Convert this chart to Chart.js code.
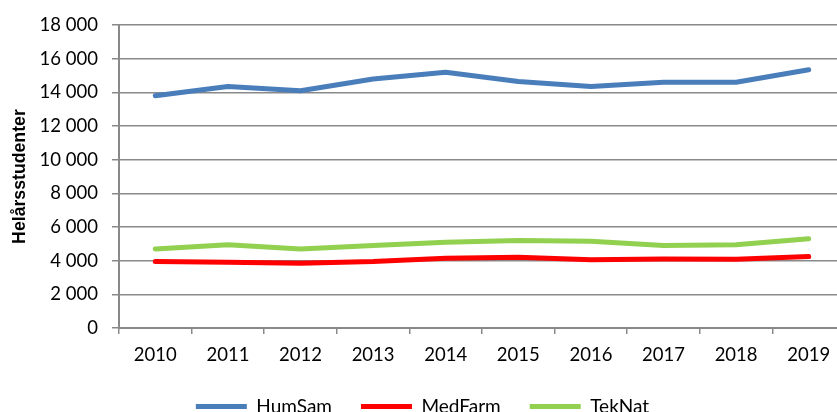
<!DOCTYPE html>
<html><head><meta charset="utf-8">
<script src="https://cdn.jsdelivr.net/npm/chart.js@4/dist/chart.umd.min.js"></script>
<style>
html,body{margin:0;padding:0;overflow:hidden;background:#fff;width:837px;height:412px}
#wrap{position:absolute;left:0;top:0;width:855px;height:426px}
</style>
</head><body><div id="wrap"><canvas id="c" width="855" height="426"></canvas></div>
<script>
const years = ['2010','2011','2012','2013','2014','2015','2016','2017','2018','2019'];
const humSam = [13800,14350,14100,14800,15200,14650,14350,14600,14600,15350];
const medFarm = [3950,3900,3850,3950,4150,4200,4050,4100,4080,4250];
const tekNat = [4700,4950,4700,4900,5100,5200,5150,4900,4950,5300];
const seriesNames = ['HumSam','MedFarm','TekNat'];
const seriesColors = ['#4A7EBB','#FF0000','#92D050'];
const yMin = 0, yMax = 18000, yStep = 2000;
const yTitle = 'Helårsstudenter';

const gridColor = '#898989';
const tickFont = {family:'Lato', size:18.5};

function fmt(v){ return String(v).replace(/\B(?=(\d{3})+(?!\d))/g,' '); }

const seriesData = [humSam, medFarm, tekNat];
new Chart(document.getElementById('c'), {
  type:'line',
  data:{
    labels: years,
    datasets: seriesData.map((d,i)=>({
      label: seriesNames[i], data: d,
      borderColor: seriesColors[i], backgroundColor: seriesColors[i],
      borderWidth: 5, pointRadius: 0, pointHoverRadius: 0, tension: 0,
      borderCapStyle:'round', borderJoinStyle:'round', fill:false
    }))
  },
  options:{
    responsive:false, devicePixelRatio:1, animation:false,
    layout:{padding:{top:24,right:10,left:0,bottom:0}},
    plugins:{
      tooltip:{enabled:false},
      legend:{
        position:'bottom',
        labels:{usePointStyle:true, pointStyle:'line', pointStyleWidth:51, padding:29,
          font:{family:'Lato', size:19}, color:'#000'}
      }
    },
    scales:{
      x:{
        offset:true,
        grid:{display:true, drawOnChartArea:false, drawTicks:true, tickLength:6, offset:true, color:gridColor, lineWidth:1.5},
        border:{color:gridColor, width:2},
        ticks:{font:tickFont, color:'#000', padding:10, maxRotation:0, autoSkip:false},
        afterFit(s){ s.height = 40; }
      },
      y:{
        min:yMin, max:yMax,
        ticks:{stepSize:yStep, font:tickFont, color:'#000', padding:14, callback:(v)=>fmt(v)},
        grid:{color:gridColor, lineWidth:1.5, tickLength:7, drawTicks:true},
        border:{color:gridColor, width:2},
        title:{display:true, text:yTitle, color:'#000',
          font:{family:'Liberation Sans', weight:'bold', size:17.7}, padding:{top:9,bottom:0}},
        afterFit(s){ s.width = 119; }
      }
    }
  }
});
</script>
</body></html>
